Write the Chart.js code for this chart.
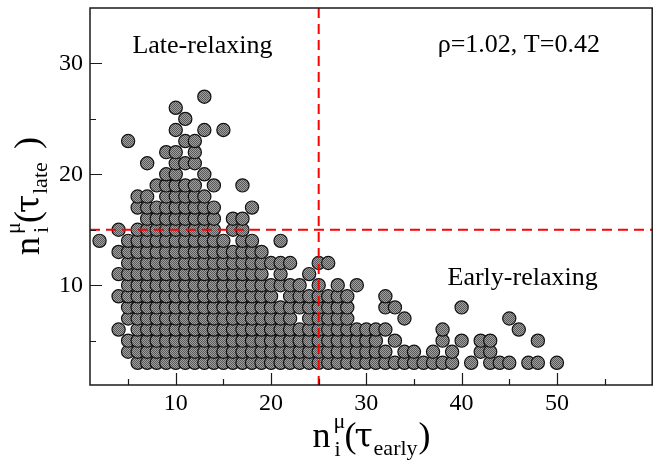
<!DOCTYPE html>
<html>
<head>
<meta charset="utf-8">
<script src="https://cdn.jsdelivr.net/npm/chart.js@4"></script>
<style>
  html, body { margin: 0; padding: 0; background: #fff; overflow: hidden; }
  #wrap { width: 660px; height: 461px; }
</style>
</head>
<body>
<div id="wrap"><canvas id="c" width="660" height="461"></canvas></div>
<script>
// n_i(tau_early) values of the particles found at each n_i(tau_late) level
const lateLevels = [3, 4, 5, 6, 7, 8, 9, 10, 11, 12, 13, 14, 15, 16, 17, 18, 19, 20, 21, 22, 23, 24, 25, 26, 27];
const early3 = [6, 7, 8, 9, 10, 11, 12, 13, 14, 15, 16, 17, 18, 19, 20, 21, 22, 23, 24, 25, 26, 27, 28, 29, 30, 31, 32, 33, 34, 35, 36, 37, 38, 39, 41, 43, 44, 45, 47, 48, 50];
const early4 = [5, 6, 7, 8, 9, 10, 11, 12, 13, 14, 15, 16, 17, 18, 19, 20, 21, 22, 23, 24, 25, 26, 27, 28, 29, 30, 31, 32, 34, 35, 37, 39, 42, 43];
const early5 = [5, 6, 7, 8, 9, 10, 11, 12, 13, 14, 15, 16, 17, 18, 19, 20, 21, 22, 23, 24, 25, 26, 27, 28, 29, 30, 31, 33, 38, 40, 42, 43, 48];
const early6 = [4, 6, 7, 8, 9, 10, 11, 12, 13, 14, 15, 16, 17, 18, 19, 20, 21, 22, 23, 24, 25, 26, 27, 28, 29, 30, 31, 32, 38, 46];
const early7 = [5, 6, 7, 8, 9, 10, 11, 12, 13, 14, 15, 16, 17, 18, 19, 20, 21, 22, 24, 25, 26, 27, 28, 34, 45];
const early8 = [5, 6, 7, 8, 9, 10, 11, 12, 13, 14, 15, 16, 17, 18, 19, 20, 21, 22, 23, 24, 25, 26, 27, 28, 32, 33, 40];
const early9 = [4, 5, 6, 7, 8, 9, 10, 11, 12, 13, 14, 15, 16, 17, 18, 19, 20, 22, 23, 24, 25, 26, 27, 28, 32];
const early10 = [5, 6, 7, 8, 9, 10, 11, 12, 13, 14, 15, 16, 17, 18, 19, 20, 21, 22, 23, 25, 27, 29];
const early11 = [4, 5, 6, 7, 8, 9, 10, 11, 12, 13, 14, 15, 16, 17, 18, 19, 21, 24];
const early12 = [5, 6, 7, 8, 9, 10, 11, 12, 13, 14, 15, 16, 17, 18, 19, 20, 21, 22, 25, 26];
const early13 = [4, 5, 6, 7, 8, 9, 10, 11, 12, 13, 14, 15, 16, 17, 18, 19];
const early14 = [2, 5, 6, 7, 8, 9, 10, 11, 12, 13, 14, 15, 17, 18, 21];
const early15 = [4, 6, 7, 8, 9, 10, 11, 12, 13, 14, 16, 17];
const early16 = [7, 8, 9, 10, 11, 12, 13, 14, 16, 17];
const early17 = [6, 7, 8, 9, 10, 11, 12, 13, 14, 18];
const early18 = [6, 7, 9, 10, 11, 12, 13];
const early19 = [8, 9, 10, 11, 12, 14, 17];
const early20 = [9, 10, 13];
const early21 = [7, 10, 11, 12];
const early22 = [9, 10, 12];
const early23 = [5, 11, 12];
const early24 = [10, 13, 15];
const early25 = [11];
const early26 = [10];
const early27 = [13];
const earlyByLevel = [early3, early4, early5, early6, early7, early8, early9, early10, early11, early12,
  early13, early14, early15, early16, early17, early18, early19, early20, early21, early22,
  early23, early24, early25, early26, early27];

// thresholds splitting early- and late-relaxing particles
const splitEarly = 25;
const splitLate = 15;

// axis ticks
const xTicks = [10, 20, 30, 40, 50];
const xMinorTicks = [5, 15, 25, 35, 45, 55];
const yTicks = [10, 20, 30];
const yMinorTicks = [5, 15, 25];

// in-plot notes (data coordinates of the text baseline centre)
const noteText = ['Late-relaxing', 'ρ=1.02, T=0.42', 'Early-relaxing'];
const noteX = [12.8, 46.0, 46.4];
const noteY = [30.95, 31.0, 10.0];

const points = [];
lateLevels.forEach((lv, i) => {
  earlyByLevel[i].forEach(e => points.push({ x: e, y: lv }));
});

const canvas = document.getElementById('c');
const ctx0 = canvas.getContext('2d');

// fine dotted grey fill for the markers
function dotFill() {
  const tile = document.createElement('canvas');
  tile.width = 2; tile.height = 2;
  const g = tile.getContext('2d');
  g.fillStyle = '#a0a0a0'; g.fillRect(0, 0, 2, 2);
  g.fillStyle = '#585858'; g.fillRect(0, 0, 1, 1); g.fillRect(1, 1, 1, 1);
  return ctx0.createPattern(tile, 'repeat');
}

const serif = '"Liberation Serif", "Times New Roman", serif';
const greek = '"DejaVu Serif", serif';

// axis title pieces: text, font, offset along the text, baseline shift
function titleRuns(sub) {
  return [
    { t: 'n', font: '36px ' + serif, dx: 0, dy: 0 },
    { t: 'μ', font: '22px ' + serif, dx: 21, dy: -19 },
    { t: 'i', font: '22px ' + serif, dx: 22, dy: 9 },
    { t: '(', font: '36px ' + serif, dx: 32, dy: 0 },
    { t: 'τ', font: '33px ' + greek, dx: 42, dy: 0 },
    { t: sub, font: '22px ' + serif, dx: 61, dy: 8 },
    { t: ')', font: '36px ' + serif, dx: 106, dy: 0 }
  ];
}

function drawTitle(ctx, runs, ox, oy, angle) {
  const width = 117;
  ctx.save();
  ctx.translate(ox, oy);
  ctx.rotate(angle);
  ctx.fillStyle = '#000';
  ctx.textBaseline = 'alphabetic';
  ctx.textAlign = 'left';
  runs.forEach(r => {
    ctx.font = r.font;
    ctx.fillText(r.t, r.dx - width / 2, r.dy);
  });
  ctx.restore();
}

const decorations = {
  id: 'decorations',
  afterDatasetsDraw(chart) {
    const { ctx, chartArea: a, scales: { x, y } } = chart;
    ctx.save();
    // dashed dividers
    ctx.strokeStyle = '#ff0000';
    ctx.lineWidth = 2;
    ctx.setLineDash([10, 6]);
    const px = x.getPixelForValue(splitEarly);
    const py = y.getPixelForValue(splitLate);
    ctx.beginPath(); ctx.moveTo(px, a.top); ctx.lineTo(px, a.bottom); ctx.stroke();
    ctx.beginPath(); ctx.moveTo(a.left, py); ctx.lineTo(a.right, py); ctx.stroke();
    ctx.setLineDash([]);

    // frame
    ctx.strokeStyle = '#1a1a1a';
    ctx.lineWidth = 1.5;
    ctx.strokeRect(a.left, a.top, a.right - a.left, a.bottom - a.top);

    // inward ticks
    ctx.lineWidth = 1.2;
    ctx.beginPath();
    xTicks.concat(xMinorTicks).forEach(v => {
      const p = Math.round(x.getPixelForValue(v)) + 0.5;
      const len = xTicks.includes(v) ? 12 : 6;
      ctx.moveTo(p, a.bottom); ctx.lineTo(p, a.bottom - len);
    });
    yTicks.concat(yMinorTicks).forEach(v => {
      const p = Math.round(y.getPixelForValue(v)) + 0.5;
      const len = yTicks.includes(v) ? 12 : 6;
      ctx.moveTo(a.left, p); ctx.lineTo(a.left + len, p);
    });
    ctx.stroke();

    // notes
    ctx.fillStyle = '#000';
    ctx.font = '26px ' + serif;
    ctx.textAlign = 'center';
    ctx.textBaseline = 'alphabetic';
    noteText.forEach((t, i) => {
      ctx.fillText(t, x.getPixelForValue(noteX[i]), y.getPixelForValue(noteY[i]));
    });
    ctx.restore();
  },
  afterDraw(chart) {
    const { ctx, chartArea: a } = chart;
    drawTitle(ctx, titleRuns('early'), (a.left + a.right) / 2, 447, 0);
    drawTitle(ctx, titleRuns('late'), 39, (a.top + a.bottom) / 2, -Math.PI / 2);
  }
};

const tickFont = { family: serif, size: 24 };

new Chart(canvas, {
  type: 'scatter',
  data: {
    datasets: [{
      data: points,
      pointRadius: 6.6,
      pointHoverRadius: 6.6,
      pointBorderWidth: 1.2,
      pointBorderColor: '#111',
      pointBackgroundColor: dotFill()
    }]
  },
  options: {
    responsive: false,
    devicePixelRatio: 1,
    animation: false,
    events: [],
    layout: { padding: { top: 8, right: 3, left: 0, bottom: 0 } },
    plugins: { legend: { display: false }, tooltip: { enabled: false } },
    scales: {
      x: {
        type: 'linear',
        min: 1,
        max: 60,
        afterBuildTicks: s => { s.ticks = xTicks.map(v => ({ value: v })); },
        afterFit: s => { s.height = 76; s.paddingLeft = 0; s.paddingRight = 0; },
        grid: { display: false, drawTicks: false },
        border: { display: false },
        ticks: { font: tickFont, color: '#000', padding: 4, maxRotation: 0, autoSkip: false }
      },
      y: {
        type: 'linear',
        min: 1,
        max: 35,
        afterBuildTicks: s => { s.ticks = yTicks.map(v => ({ value: v })); },
        afterFit: s => { s.width = 90; s.paddingTop = 0; s.paddingBottom = 0; },
        grid: { display: false, drawTicks: false },
        border: { display: false },
        ticks: { font: tickFont, color: '#000', padding: 7, autoSkip: false }
      }
    }
  },
  plugins: [decorations]
});
</script>
</body>
</html>
